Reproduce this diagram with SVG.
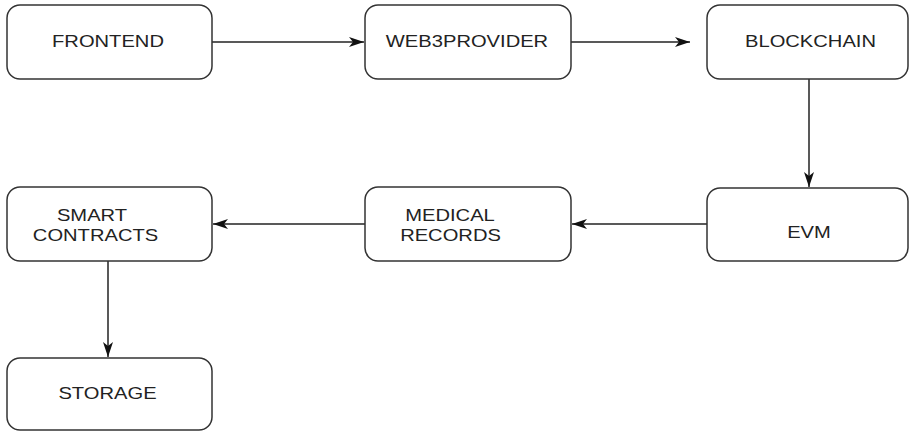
<svg xmlns="http://www.w3.org/2000/svg" width="910" height="431" viewBox="0 0 910 431">
<style>
.box{fill:#fff;stroke:#333;stroke-width:1.5}
.lbl{font-family:"Liberation Sans",Arial,sans-serif;font-size:16px;fill:#222;text-anchor:middle}
.edge{fill:none;stroke:#222;stroke-width:1.5}
</style>
<defs>
<marker id="arr" markerUnits="userSpaceOnUse" markerWidth="16" markerHeight="12" refX="15" refY="5" orient="auto">
<path d="M0,0 L15,5 L0,10 L4,5 z" fill="#111"/>
</marker>
</defs>
<rect width="910" height="431" fill="#fff"/>
<g id="edges">
<line class="edge" x1="212" y1="42" x2="364" y2="42" marker-end="url(#arr)"/>
<line class="edge" x1="571" y1="42" x2="690" y2="42" marker-end="url(#arr)"/>
<line class="edge" x1="809" y1="79" x2="809" y2="187" marker-end="url(#arr)"/>
<line class="edge" x1="707" y1="224" x2="572" y2="224" marker-end="url(#arr)"/>
<line class="edge" x1="365" y1="224" x2="213" y2="224" marker-end="url(#arr)"/>
<line class="edge" x1="108" y1="261" x2="108" y2="357" marker-end="url(#arr)"/>
</g>
<g id="frontend">
<rect class="box" x="7" y="5" width="205" height="74" rx="13"/>
<text class="lbl" transform="translate(108,47) scale(1.26,1)">FRONTEND</text>
</g>
<g id="web3provider">
<rect class="box" x="365" y="5" width="206" height="74" rx="13"/>
<text class="lbl" transform="translate(467,47) scale(1.26,1)">WEB3PROVIDER</text>
</g>
<g id="blockchain">
<rect class="box" x="707" y="5" width="201" height="74" rx="13"/>
<text class="lbl" transform="translate(810.5,47) scale(1.26,1)">BLOCKCHAIN</text>
</g>
<g id="evm">
<rect class="box" x="707" y="188" width="201" height="73" rx="13"/>
<text class="lbl" transform="translate(809,238) scale(1.26,1)">EVM</text>
</g>
<g id="medical-records">
<rect class="box" x="365" y="187" width="206" height="74" rx="13"/>
<text class="lbl" transform="translate(450,221) scale(1.26,1)">MEDICAL</text>
<text class="lbl" transform="translate(450.5,241) scale(1.26,1)">RECORDS</text>
</g>
<g id="smart-contracts">
<rect class="box" x="7" y="187" width="205" height="74" rx="13"/>
<text class="lbl" transform="translate(92,221) scale(1.26,1)">SMART</text>
<text class="lbl" transform="translate(95.5,241) scale(1.26,1)">CONTRACTS</text>
</g>
<g id="storage">
<rect class="box" x="7" y="358" width="205" height="72" rx="13"/>
<text class="lbl" transform="translate(107.5,399) scale(1.26,1)">STORAGE</text>
</g>
</svg>
